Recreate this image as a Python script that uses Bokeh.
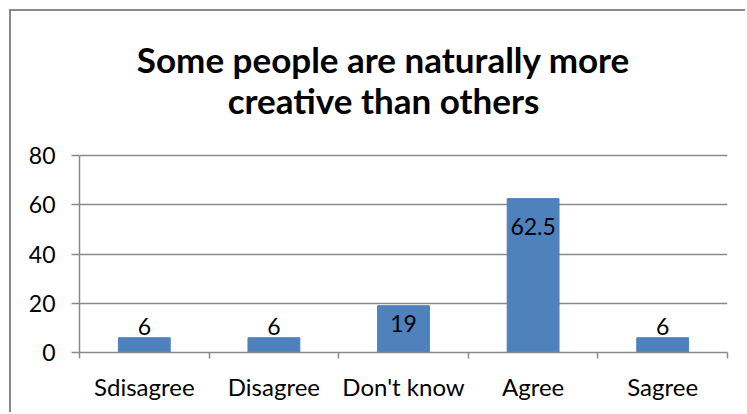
from bokeh.plotting import figure
from bokeh.models import FixedTicker, ColumnDataSource, Range1d
from bokeh.embed import file_html
from bokeh.resources import INLINE
from bokeh.core.properties import value

categories = ["Sdisagree", "Disagree", "Don't know", "Agree", "Sagree"]
values = [6, 6, 19, 62.5, 6]
labels = ["6", "6", "19", "62.5", "6"]
y_ticks = [0, 20, 40, 60, 80]
title_lines = ["Some people are naturally more", "creative than others"]

FONT = "Lato"
W, H = 736, 403
BORDER_BOTTOM = 62
AXIS_PX = 197          # pixel height of the 0..80 value span
ymax = y_ticks[-1]
frame_px = H - BORDER_BOTTOM
y_top = ymax * frame_px / AXIS_PX   # extend frame upwards so title fits inside it

xs = [i + 0.5 for i in range(len(categories))]
inside = [v > 10 for v in values]
label_offsets = [-3, -3, 9, 19, -3]
src = ColumnDataSource(dict(
    x=xs, top=values, label=labels,
    yoff=label_offsets,
    base=["top" if ins else "bottom" for ins in inside],
))

p = figure(width=W, height=H, output_backend="svg", toolbar_location=None,
           x_range=Range1d(0, len(categories)), y_range=Range1d(0, y_top),
           min_border_left=68, min_border_right=20, min_border_top=0,
           min_border_bottom=BORDER_BOTTOM)
p.styles = {"margin-left": "9px", "margin-top": "9px",
            "border-left": "2px solid #8a8a8a", "border-top": "2px solid #8a8a8a"}
p.title.visible = False
p.outline_line_color = None

tsrc = ColumnDataSource(dict(x=[len(categories) / 2] * 2, y=[ymax] * 2,
                             text=title_lines, off=[-97, -56]))
p.text(x="x", y="y", text="text", source=tsrc, x_offset=-20, y_offset="off",
       text_align="center", text_baseline="alphabetic", text_font=value(FONT),
       text_font_size="35px", text_font_style="bold", text_color="black")

p.vbar(x="x", top="top", width=0.4, bottom=0, source=src, color="#4F81BD")
p.text(x="x", y="top", text="label", source=src, text_align="center",
       text_baseline="base", y_offset="yoff", text_font=value(FONT),
       text_font_size="23px", text_color="black")

gray = "#8a8a8a"
p.xgrid.visible = False
p.ygrid.grid_line_color = gray
p.ygrid.grid_line_width = 1.5
p.ygrid.ticker = FixedTicker(ticks=y_ticks)

p.yaxis.ticker = FixedTicker(ticks=y_ticks)
p.yaxis.bounds = (0, ymax)
p.yaxis.axis_line_color = gray
p.yaxis.axis_line_width = 1.5
p.yaxis.major_tick_line_color = gray
p.yaxis.major_tick_line_width = 1.5
p.yaxis.major_tick_in = 0
p.yaxis.major_tick_out = 8
p.yaxis.minor_tick_line_color = None
p.yaxis.major_label_text_font = FONT
p.yaxis.major_label_text_font_size = "23px"
p.yaxis.major_label_text_color = "black"
p.yaxis.major_label_standoff = 16

p.xaxis.ticker = FixedTicker(ticks=xs, minor_ticks=list(range(len(categories) + 1)))
p.xaxis.major_label_overrides = {x: c for x, c in zip(xs, categories)}
p.xaxis.axis_line_color = gray
p.xaxis.axis_line_width = 1.5
p.xaxis.major_tick_line_color = None
p.xaxis.minor_tick_line_color = gray
p.xaxis.minor_tick_line_width = 1.5
p.xaxis.minor_tick_in = 0
p.xaxis.minor_tick_out = 6
p.xaxis.major_label_text_font = FONT
p.xaxis.major_label_text_font_size = "24px"
p.xaxis.major_label_text_color = "black"
p.xaxis.major_label_standoff = 13

open("out.html", "w").write(file_html(p, INLINE))
